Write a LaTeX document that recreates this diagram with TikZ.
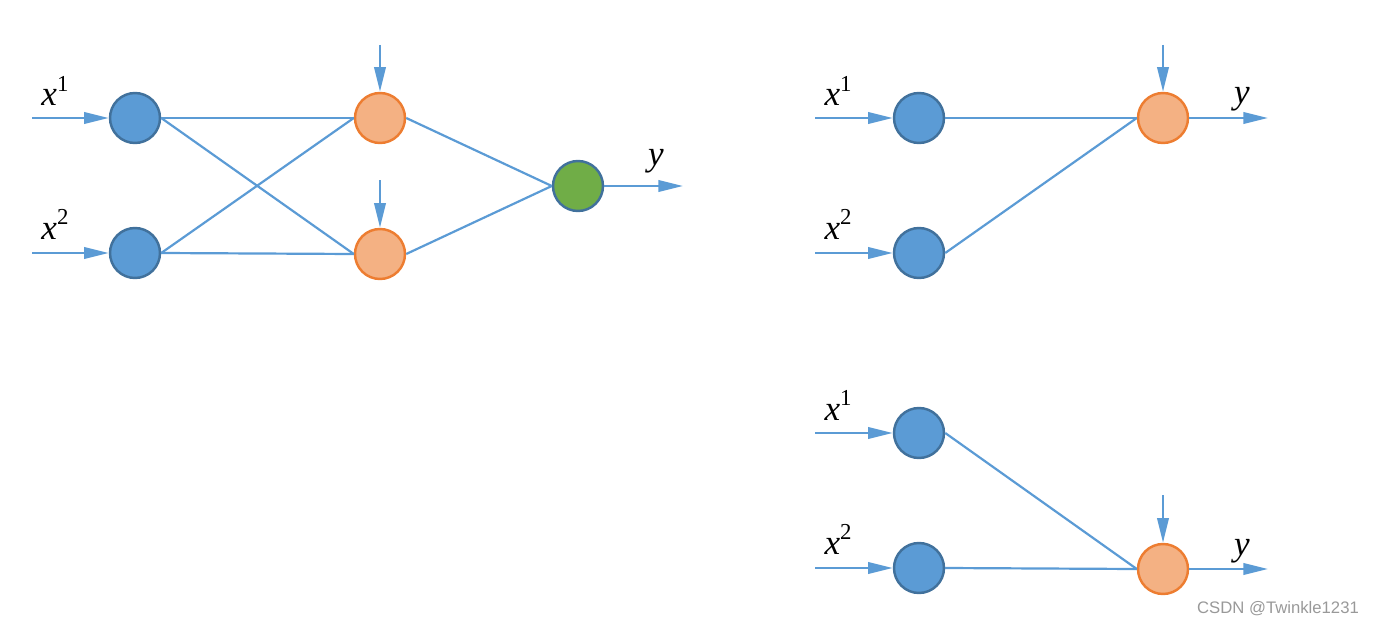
\documentclass[tikz,border=0pt]{standalone}
\usepackage{fontspec}
\newfontfamily\wmfont{Liberation Sans}
\newfontfamily\labfont{Liberation Serif}
\usetikzlibrary{arrows.meta}
\definecolor{inblue}{HTML}{5B9BD5}
\definecolor{inedge}{HTML}{41719C}
\definecolor{hidfill}{HTML}{F4B183}
\definecolor{hidedge}{HTML}{ED7D31}
\definecolor{outfill}{HTML}{70AD47}
\definecolor{lineblue}{HTML}{5B9BD5}
\newlength{\pxu}
\setlength{\pxu}{0.02cm}
\newcommand{\xlab}[1]{{\itshape x}\raisebox{0.42em}{\fontsize{13}{14}\selectfont\upshape #1}}
\tikzset{
  inneuron/.style={circle,draw=inedge,fill=inblue,line width=1.4pt,minimum size=50\pxu,inner sep=0pt},
  hidneuron/.style={circle,draw=hidedge,fill=hidfill,line width=1.4pt,minimum size=50\pxu,inner sep=0pt},
  outneuron/.style={circle,draw=inedge,fill=outfill,line width=1.4pt,minimum size=50\pxu,inner sep=0pt},
  wire/.style={draw=lineblue,line width=1.25pt},
  arr/.style={draw=lineblue,line width=1.25pt,-{Triangle[length=14pt,width=6.5pt]}},
  lab/.style={anchor=base,inner sep=0pt,font=\labfont\fontsize{20}{22}\selectfont},
}
\begin{document}
\begin{tikzpicture}[x=0.02cm,y=-0.02cm]
\useasboundingbox (0,0) rectangle (1373,625);
% ---------- left network ----------
\node[inneuron] (a1) at (135,118) {};
\node[inneuron] (a2) at (135,253) {};
\node[hidneuron] (h1) at (380,118) {};
\node[hidneuron] (h2) at (380,254) {};
\node[outneuron] (o) at (578,186) {};
\coordinate (a1in) at (32,118);
\coordinate (a2in) at (32,253);
\coordinate (h1b) at (380,45);
\coordinate (h2b) at (380,180);
\coordinate (oout) at (683,186);
\draw[arr] (a1in) -- (a1.west);
\draw[arr] (a2in) -- (a2.west);
\draw[arr] (h1b) -- (h1.north);
\draw[arr] (h2b) -- (h2.north);
\draw[arr] (o.east) -- (oout);
\draw[wire] (a1.east) -- (h1.west);
\draw[wire] (a1.east) -- (h2.west);
\draw[wire] (a2.east) -- (h1.west);
\draw[wire] (a2.east) -- (h2.west);
\draw[wire] (h1.east) -- (o.west);
\draw[wire] (h2.east) -- (o.west);
\node[lab] (lx1) at (55,106) {\xlab{1}};
\node[lab] (lx2) at (55,239) {\xlab{2}};
\node[lab] (ly) at (656,166) {\itshape y};
% ---------- right top ----------
\node[inneuron] (b1) at (919,118) {};
\node[inneuron] (b2) at (919,253) {};
\node[hidneuron] (g) at (1163,118) {};
\coordinate (b1in) at (815,118);
\coordinate (b2in) at (815,253);
\coordinate (gb) at (1163,45);
\coordinate (gout) at (1268,118);
\draw[arr] (b1in) -- (b1.west);
\draw[arr] (b2in) -- (b2.west);
\draw[arr] (gb) -- (g.north);
\draw[arr] (g.east) -- (gout);
\draw[wire] (b1.east) -- (g.west);
\draw[wire] (b2.east) -- (g.west);
\node[lab] (mx1) at (838,106) {\xlab{1}};
\node[lab] (mx2) at (838,239) {\xlab{2}};
\node[lab] (my) at (1242,104) {\itshape y};
% ---------- right bottom ----------
\node[inneuron] (c1) at (919,433) {};
\node[inneuron] (c2) at (919,568) {};
\node[hidneuron] (k) at (1163,569) {};
\coordinate (c1in) at (815,433);
\coordinate (c2in) at (815,568);
\coordinate (kb) at (1163,495);
\coordinate (kout) at (1268,569);
\draw[arr] (c1in) -- (c1.west);
\draw[arr] (c2in) -- (c2.west);
\draw[arr] (kb) -- (k.north);
\draw[arr] (k.east) -- (kout);
\draw[wire] (c1.east) -- (k.west);
\draw[wire] (c2.east) -- (k.west);
\node[lab] (nx1) at (838,420) {\xlab{1}};
\node[lab] (nx2) at (838,554) {\xlab{2}};
\node[lab] (ny) at (1242,555) {\itshape y};
% watermark
\node[inner sep=0pt,text=gray!80,font=\wmfont\fontsize{9.5}{11}\selectfont] (wm) at (1278,609) {CSDN @Twinkle1231};
\end{tikzpicture}
\end{document}
